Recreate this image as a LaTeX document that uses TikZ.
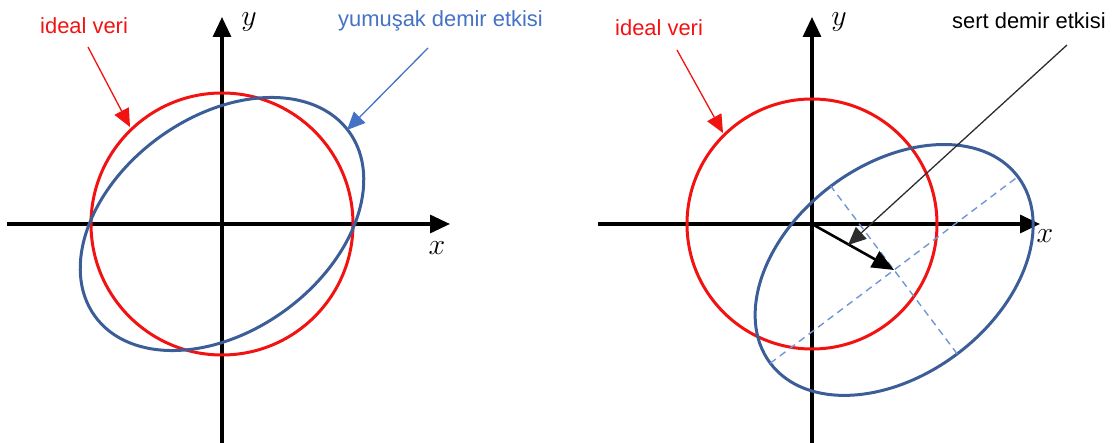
\RequirePackage{fix-cm}
\documentclass[tikz,border=0pt]{standalone}
\usepackage{fontspec}
\setmainfont{Liberation Sans}
\usetikzlibrary{arrows.meta}
\definecolor{idealred}{RGB}{242,18,18}
\definecolor{ironblue}{RGB}{60,94,152}
\definecolor{labelblue}{RGB}{68,114,196}
\definecolor{dashblue}{RGB}{112,150,214}
\definecolor{leadergray}{RGB}{45,45,45}

\begin{document}
\begin{tikzpicture}[x=1bp,y=-1bp,
    axis/.style={line width=3.2bp,-{Triangle[length=20bp,width=18bp]}},
    ideal/.style={line width=3bp,draw=idealred},
    distorted/.style={line width=3bp,draw=ironblue},
    leader/.style={line width=1.3bp,-{Triangle[length=18bp,width=16bp]}},
    lbl/.style={inner sep=0pt,anchor=base west,font=\fontsize{22}{26}\selectfont},
    axlbl/.style={inner sep=0pt,font=\fontsize{30}{34}\selectfont}]
  \useasboundingbox (0,0) rectangle (1119,443);

  % Left panel: soft iron
  \coordinate (L-o) at (222,224);
  \draw[axis] (7,224) -- (450,224);
  \draw[axis] (222,443) -- (222,17);
  \node[axlbl] (L-x) at (437,248) {$x$};
  \node[axlbl] (L-y) at (249,22) {$y$};
  % circle and tilted ellipse
  \draw[ideal] (L-o) circle (131bp);
  \draw[distorted, rotate around={36:(L-o)}] (L-o) ellipse (157bp and 107bp);
  % labels with leaders
  \node[lbl, text=idealred] (L-ideal) at (40,34) {ideal veri};
  \node[lbl, text=labelblue] (L-soft) at (338,27) {yumuşak demir etkisi};
  \coordinate (L-ideal-from) at (88,47);
  \coordinate (L-ideal-to) at (130,127);
  \coordinate (L-soft-from) at (428,48);
  \coordinate (L-soft-to) at (347,130);
  \draw[leader, idealred] (L-ideal-from) -- (L-ideal-to);
  \draw[leader, labelblue] (L-soft-from) -- (L-soft-to);

  % Right panel: hard iron
  \coordinate (R-o) at (812,224);
  \coordinate (R-c) at (894,270);
  \draw[axis] (598,224) -- (1040,224);
  \draw[axis] (812,443) -- (812,17);
  \node[axlbl] (R-x) at (1045,236) {$x$};
  \node[axlbl] (R-y) at (839,22) {$y$};
  % circle and shifted ellipse
  \draw[ideal] (R-o) circle (125bp);
  \draw[distorted, rotate around={37:(R-c)}] (R-c) ellipse (155bp and 105bp);
  \begin{scope}[shift={(R-c)}, rotate=37]
    \draw[dashblue, line width=1.4bp, dash pattern=on 7bp off 5bp] (-155bp,0) -- (155bp,0);
    \draw[dashblue, line width=1.4bp, dash pattern=on 7bp off 5bp] (0,-105bp) -- (0,105bp);
  \end{scope}
  % offset vector
  \draw[line width=2.6bp, -{Triangle[length=22bp,width=18bp]}] (R-o) -- (R-c);
  % labels with leaders
  \node[lbl, text=idealred] (R-ideal) at (615,36) {ideal veri};
  \node[lbl] (R-hard) at (952,29) {sert demir etkisi};
  \coordinate (R-ideal-from) at (677,50);
  \coordinate (R-ideal-to) at (723,133);
  \coordinate (R-hard-from) at (1067,45);
  \coordinate (R-hard-to) at (848,245);
  \draw[leader, idealred] (R-ideal-from) -- (R-ideal-to);
  \draw[leader, leadergray] (R-hard-from) -- (R-hard-to);
\end{tikzpicture}
\end{document}
